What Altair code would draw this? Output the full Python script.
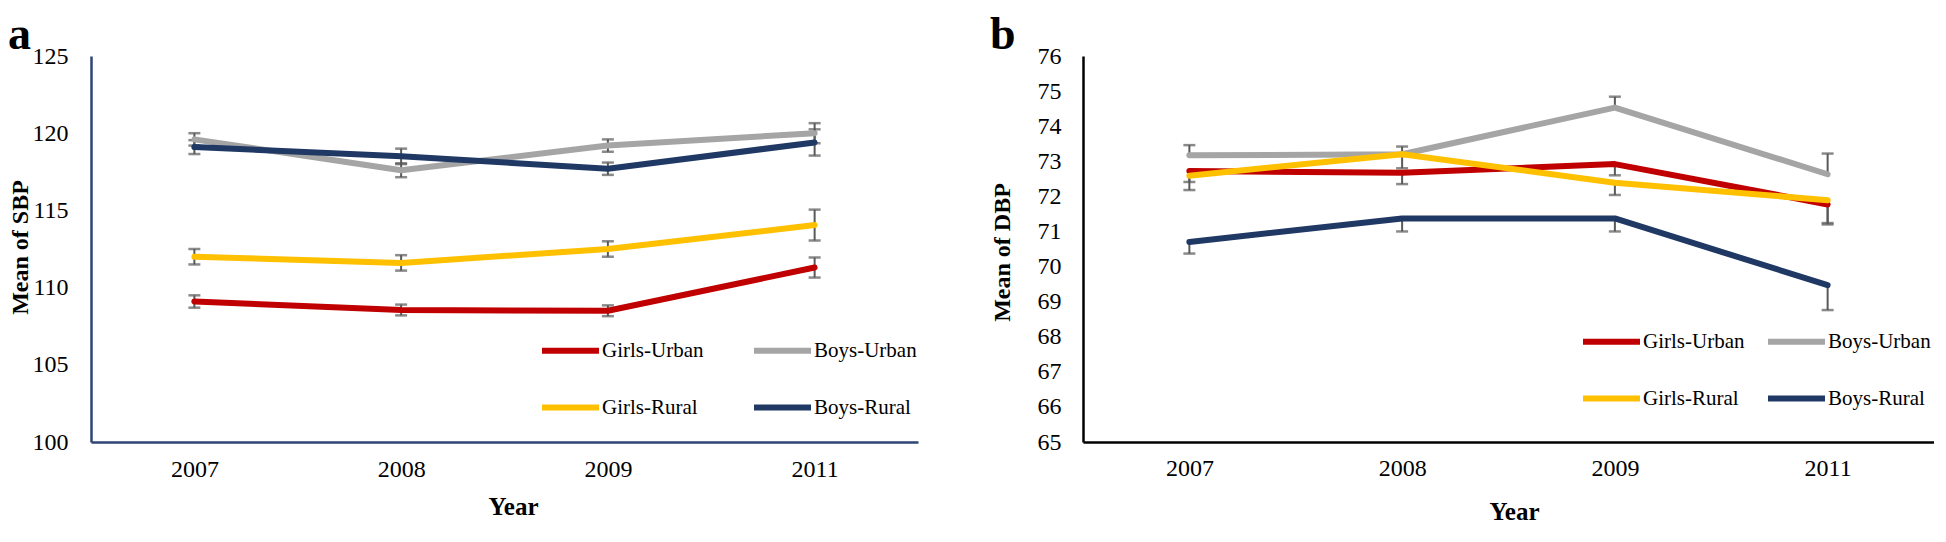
import altair as alt
import pandas as pd

years = ["2007", "2008", "2009", "2011"]
series = ["Girls-Urban", "Boys-Urban", "Girls-Rural", "Boys-Rural"]
colors = ["#C00000", "#A5A5A5", "#FFC000", "#203864"]

# Panel a: mean SBP
sbp_girls_urban = [109.1, 108.55, 108.5, 111.3]
sbp_boys_urban = [119.6, 117.6, 119.2, 120.0]
sbp_girls_rural = [112.0, 111.6, 112.5, 114.05]
sbp_boys_rural = [119.1, 118.5, 117.7, 119.4]
sbp_err_girls_urban = [0.4, 0.35, 0.35, 0.65]
sbp_err_boys_urban = [0.4, 0.45, 0.4, 0.65]
sbp_err_girls_rural = [0.5, 0.5, 0.5, 1.0]
sbp_err_boys_rural = [0.45, 0.5, 0.4, 0.85]

# Panel b: mean DBP
dbp_girls_urban = [72.72, 72.67, 72.92, 71.77]
dbp_boys_urban = [73.17, 73.2, 74.53, 72.63]
dbp_girls_rural = [72.59, 73.2, 72.39, 71.89]
dbp_boys_rural = [70.7, 71.37, 71.37, 69.47]
dbp_err_girls_urban = [0.31, 0.32, 0.32, 0.57]
dbp_err_boys_urban = [0.29, 0.22, 0.31, 0.59]
dbp_err_girls_rural = [0.41, 0.4, 0.35, 0.65]
dbp_err_boys_rural = [0.33, 0.37, 0.37, 0.71]
# direction of the drawn error bar in panel b (+1 up only, -1 down only)
dbp_err_dir = [-1, 1, -1, -1]

FONT = "Liberation Serif"


def build_frames(values, errs, dirs=None):
    rows, caps = [], []
    for si, s in enumerate(series):
        for yi, yr in enumerate(years):
            v = values[si][yi]
            e = errs[si][yi]
            if dirs is None:
                lo, hi = v - e, v + e
                caps += [{"year": yr, "series": s, "cap": lo}, {"year": yr, "series": s, "cap": hi}]
            elif dirs[si] > 0:
                lo, hi = v, v + e
                caps.append({"year": yr, "series": s, "cap": hi})
            else:
                lo, hi = v - e, v
                caps.append({"year": yr, "series": s, "cap": lo})
            rows.append({"year": yr, "series": s, "value": v, "lo": lo, "hi": hi})
    return pd.DataFrame(rows), pd.DataFrame(caps)


def panel(df, caps, letter, ytitle, ydom, yvals, axis_color, w, h,
          letter_y, title_x, title_y, xtitle_x, xtitle_y, ylab_pad,
          xlab_pad, leg_x, leg_y, col_pad, row_pad):
    xscale = alt.Scale(type="point", padding=0.5)
    xaxis = alt.Axis(
        labelAngle=0, ticks=False, tickSize=0, grid=False,
        domainColor=axis_color, domainWidth=2.5,
        labelFont=FONT, labelFontSize=24, labelColor="black",
        labelPadding=xlab_pad,
        title="Year", titleFont=FONT, titleFontSize=25,
        titleFontWeight="bold", titleColor="black",
        titleX=xtitle_x, titleY=xtitle_y, titleBaseline="middle",
    )
    yscale = alt.Scale(domain=ydom, nice=False, zero=False)
    yaxis = alt.Axis(
        values=yvals, ticks=False, tickSize=0, grid=False,
        domainColor=axis_color, domainWidth=2.5,
        labelFont=FONT, labelFontSize=24, labelColor="black",
        labelPadding=ylab_pad, labelOverlap=False,
        title=ytitle, titleFont=FONT, titleFontSize=24,
        titleFontWeight="bold", titleColor="black",
        titleX=title_x, titleY=title_y, titleBaseline="top",
        titleAlign="center", titleAngle=270,
    )
    rules = alt.Chart(df).mark_rule(color="#595959", strokeWidth=2).encode(
        x=alt.X("year:N", sort=years, scale=xscale, axis=xaxis),
        y=alt.Y("lo:Q", scale=yscale, axis=yaxis),
        y2="hi:Q",
    )
    ticks = alt.Chart(caps).mark_tick(color="#595959", size=12, thickness=2.5).encode(
        x=alt.X("year:N", sort=years, scale=xscale, axis=xaxis),
        y=alt.Y("cap:Q", scale=yscale, axis=yaxis),
    )
    lines = alt.Chart(df).mark_line(strokeWidth=6, strokeCap="round", strokeJoin="round").encode(
        x=alt.X("year:N", sort=years, scale=xscale, axis=xaxis),
        y=alt.Y("value:Q", scale=yscale, axis=yaxis),
        color=alt.Color(
            "series:N",
            scale=alt.Scale(domain=series, range=colors),
            legend=alt.Legend(
                title=None, orient="none", legendX=leg_x, legendY=leg_y,
                direction="horizontal", columns=2, symbolType="stroke",
                symbolStrokeWidth=6, symbolSize=3249, labelFont=FONT,
                labelFontSize=21, labelColor="black", labelOffset=0,
                columnPadding=col_pad, rowPadding=row_pad, padding=0,
                labelLimit=300,
            ),
        ),
    )
    lab = alt.Chart(pd.DataFrame({"t": [letter]})).mark_text(
        font=FONT, fontSize=46, fontWeight="bold", align="left",
        baseline="top", color="black",
    ).encode(text="t:N", x=alt.value(title_x), y=alt.value(letter_y))
    return alt.layer(rules, ticks, lines, lab).properties(width=w, height=h)


sbp_vals = [sbp_girls_urban, sbp_boys_urban, sbp_girls_rural, sbp_boys_rural]
sbp_errs = [sbp_err_girls_urban, sbp_err_boys_urban, sbp_err_girls_rural, sbp_err_boys_rural]
dbp_vals = [dbp_girls_urban, dbp_boys_urban, dbp_girls_rural, dbp_boys_rural]
dbp_errs = [dbp_err_girls_urban, dbp_err_boys_urban, dbp_err_girls_rural, dbp_err_boys_rural]

df_a, caps_a = build_frames(sbp_vals, sbp_errs)
df_b, caps_b = build_frames(dbp_vals, dbp_errs, dbp_err_dir)

pa = panel(df_a, caps_a, "a", "Mean of SBP", [100, 125], [100, 105, 110, 115, 120, 125],
           "#2F4574", 827, 386, -43, -83, 191, 422, 64, 23, 15, 448, 263, 38, 13)
pb = panel(df_b, caps_b, "b", "Mean of DBP", [65, 76], list(range(65, 77)),
           "#000000", 851, 386, -43, -93, 196, 431, 69, 22, 14, 497, 254, 11, 13)

chart = alt.hconcat(pa, pb, spacing=72).resolve_scale(
    color="independent"
).resolve_legend(color="independent").properties(
    padding={"top": 4, "left": 0, "right": 0, "bottom": 0}
).configure_view(stroke=None).configure_axis(labelOverlap=False)

chart.save("out.html", embed_options={"renderer": "svg", "actions": False})
